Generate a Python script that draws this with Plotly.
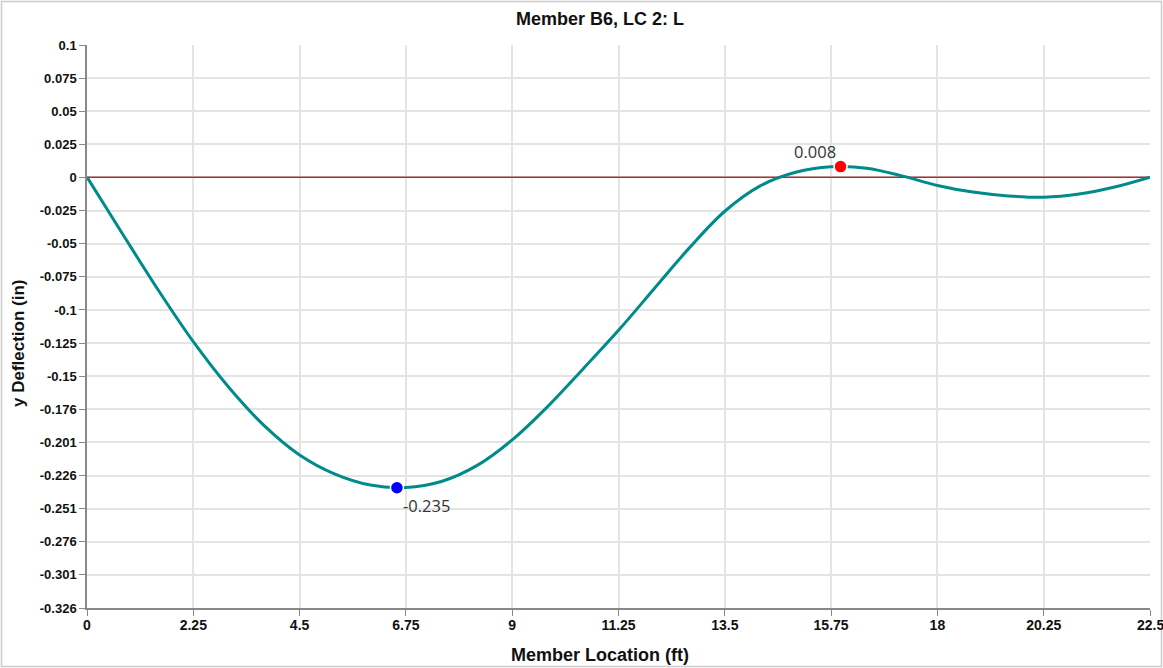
import numpy as np
import plotly.graph_objects as go

location_ft = [0, 0.75, 1.5, 2.25, 3.0, 3.75, 4.5, 5.25, 6.0, 6.75, 7.5, 8.25, 9.0, 9.75, 10.5,
               11.25, 12.0, 12.75, 13.5, 14.25, 15.0, 15.75, 16.5, 17.25, 18.0, 18.75, 19.5,
               20.25, 21.0, 21.75, 22.5]
deflection_in = [0, -0.0428, -0.085, -0.1245, -0.159, -0.188, -0.2102, -0.2247, -0.233, -0.2348,
                 -0.2303, -0.2183, -0.1988, -0.1736, -0.1451, -0.1159, -0.0846, -0.0535, -0.0258,
                 -0.0066, 0.0037, 0.0078, 0.0068, 0.001, -0.0063, -0.0113, -0.0142, -0.0152,
                 -0.0128, -0.0075, 0]

min_point = (6.56, -0.235)
max_point = (15.95, 0.008)

x_ticks = [0, 2.25, 4.5, 6.75, 9, 11.25, 13.5, 15.75, 18, 20.25, 22.5]
y_tick_labels = ["0.1", "0.075", "0.05", "0.025", "0", "-0.025", "-0.05", "-0.075", "-0.1",
                 "-0.125", "-0.15", "-0.176", "-0.201", "-0.226", "-0.251", "-0.276", "-0.301", "-0.326"]
y_top, y_bottom = 0.1, -0.326
y_tick_vals = list(np.linspace(y_top, y_bottom, len(y_tick_labels)))
y_tick_vals[4] = 0.0

fig = go.Figure()

fig.add_trace(go.Scatter(x=[0, 22.5], y=[0, 0], mode="lines",
                         line=dict(color="#a83232", width=1.5), hoverinfo="skip", showlegend=False))
fig.add_trace(go.Scatter(x=location_ft, y=deflection_in, mode="lines",
                         line=dict(color="#008b8b", width=3, shape="spline", smoothing=1.0),
                         showlegend=False))
fig.add_trace(go.Scatter(x=[min_point[0]], y=[min_point[1]], mode="markers",
                         marker=dict(color="#0000ff", size=13, line=dict(color="white", width=1.5)),
                         showlegend=False))
fig.add_trace(go.Scatter(x=[max_point[0]], y=[max_point[1]], mode="markers",
                         marker=dict(color="#ff0000", size=13, line=dict(color="white", width=1.5)),
                         showlegend=False))

lbl_font = dict(family="Segoe UI, Open Sans, sans-serif", size=16.5, color="#333")
fig.add_annotation(x=min_point[0], y=min_point[1], text=f"{min_point[1]:.3f}", showarrow=False,
                   xanchor="left", yanchor="top", xshift=4, yshift=-4, font=lbl_font)
fig.add_annotation(x=max_point[0], y=max_point[1], text=f"{max_point[1]:.3f}", showarrow=False,
                   xanchor="right", yanchor="bottom", xshift=-3, yshift=2, font=lbl_font)

W, H = 1163, 668
L, R, T, B = 87, 13, 45, 60
pw, ph = W - L - R, H - T - B
fig.add_shape(type="rect", xref="paper", yref="paper",
              x0=-(L - 1.5) / pw, x1=1 + (R - 1.5) / pw, y0=-(B - 1.5) / ph, y1=1 + (T - 1.5) / ph,
              line=dict(color="#cccccc", width=1.5), layer="below")

tick_font = dict(family="Liberation Sans, Arial, sans-serif", size=14, color="#111")
# last x tick label sits on the right edge of the chart
fig.add_annotation(text=f"<b>{x_ticks[-1]:g}</b>", x=x_ticks[-1], xref="x", yref="paper",
                   y=-(625 - (T + ph)) / ph, showarrow=False, xanchor="center", yanchor="middle",
                   font=tick_font)

fig.add_annotation(text="<b>Member Location (ft)</b>", xref="paper", yref="paper",
                   x=(600 - L) / pw, y=-(655 - (T + ph)) / ph, showarrow=False,
                   xanchor="center", yanchor="middle",
                   font=dict(family="Liberation Sans, Arial, sans-serif", size=18, color="#111"))
fig.add_annotation(text="<b>y Deflection (in)</b>", xref="paper", yref="paper",
                   x=-(L - 18) / pw, y=1 - (343 - T) / ph, showarrow=False, textangle=-90,
                   xanchor="center", yanchor="middle",
                   font=dict(family="Liberation Sans, Arial, sans-serif", size=17, color="#111"))

fig.update_layout(
    width=W, height=H,
    margin=dict(l=L, r=R, t=T, b=B, autoexpand=False),
    paper_bgcolor="white", plot_bgcolor="white",
    title=dict(text="<b>Member B6, LC 2: L</b>", xref="paper", x=(600 - L) / pw, xanchor="center",
               yref="container", y=1 - 19 / H, yanchor="middle",
               font=dict(family="Liberation Sans, Arial, sans-serif", size=18, color="#111")),
    font=dict(family="Liberation Sans, Arial, sans-serif", color="#111"),
    xaxis=dict(range=[0, 22.5], tickvals=x_ticks,
               ticktext=[f"<b>{t:g}</b>" for t in x_ticks[:-1]] + [""],
               showgrid=True, gridcolor="#e4e4e4", gridwidth=1.5, automargin=False,
               showline=True, linecolor="#888", linewidth=1.5, ticks="outside", ticklen=6,
               tickcolor="#888", tickfont=tick_font, zeroline=False, ticklabelstandoff=-3),
    yaxis=dict(range=[y_bottom, y_top], tickvals=y_tick_vals,
               ticktext=[f"<b>{t}</b>" for t in y_tick_labels], automargin=False,
               showgrid=True, gridcolor="#e4e4e4", gridwidth=1.5,
               showline=True, linecolor="#888", linewidth=1.5, ticks="outside", ticklen=6,
               tickcolor="#888", tickfont=dict(size=13, color="#111"), zeroline=False),
)

fig.write_html("out.html", config={"displayModeBar": False},
               post_script="document.body.style.margin='0';")
